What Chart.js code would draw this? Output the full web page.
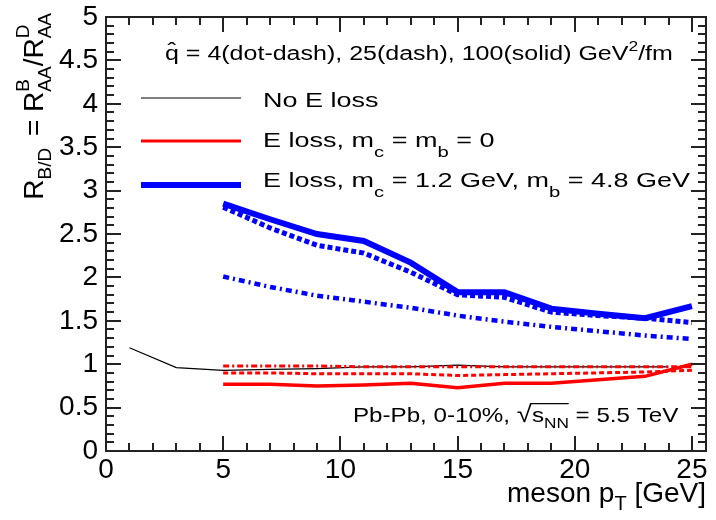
<!DOCTYPE html>
<html>
<head>
<meta charset="utf-8">
<script src="https://cdn.jsdelivr.net/npm/chart.js@4.4.1/dist/chart.umd.min.js"></script>
<style>
  html, body { margin: 0; padding: 0; background: #fff; }
  canvas { display: block; }
</style>
</head>
<body>
<canvas id="c" width="716" height="520"></canvas>
<script>
'use strict';

var FONT = '"Liberation Sans", Arial, Helvetica, sans-serif';

// pT bin centres (GeV)
var binX   = [5, 7, 9, 11, 13, 15, 17, 19, 21, 23, 25];
var blackX = [1, 3, 5, 7, 9, 11, 13, 15, 17, 19, 21, 23, 24];

// R_B/D values
var noLoss      = [1.19, 0.96, 0.93, 0.94, 0.95, 0.97, 0.97, 0.99, 0.97, 0.97, 0.97, 0.97, 0.97];
var redSolid    = [0.77, 0.77, 0.75, 0.76, 0.78, 0.73, 0.78, 0.78, 0.82, 0.86, 1.00];
var redDash     = [0.90, 0.90, 0.89, 0.89, 0.89, 0.87, 0.88, 0.89, 0.90, 0.91, 0.93];
var redDotDash  = [0.98, 0.98, 0.98, 0.97, 0.97, 0.97, 0.97, 0.97, 0.97, 0.97, 0.97];
var blueSolid   = [2.85, 2.67, 2.50, 2.42, 2.17, 1.83, 1.83, 1.64, 1.58, 1.53, 1.67];
var blueDash    = [2.81, 2.57, 2.37, 2.28, 2.06, 1.80, 1.77, 1.60, 1.56, 1.53, 1.48];
var blueDotDash = [2.01, 1.89, 1.79, 1.72, 1.65, 1.56, 1.49, 1.43, 1.38, 1.33, 1.29];

// axis ticks: major every 0.5 / 5, minor every 0.1 / 1
var yMinorTicks = [];
for (var k = 0; k <= 50; k++) yMinorTicks.push(k / 10);
var xMinorTicks = [];
for (var m = 0; m <= 25; m++) xMinorTicks.push(m);

function pts(xs, ys) {
  return xs.map(function(x, i) { return { x: x, y: ys[i] }; });
}

function line(data, color, width, dash) {
  return {
    data: data, borderColor: color, borderWidth: width, borderDash: dash || [],
    pointRadius: 0, tension: 0, fill: false, borderCapStyle: 'butt'
  };
}

// --- small rich-text helper for sub/superscripts ---
function partWidth(ctx, p) {
  if (p.stack) {
    return Math.max.apply(null, p.stack.map(function(q) { return partWidth(ctx, q); }));
  }
  ctx.font = p.s + 'px ' + FONT;
  return ctx.measureText(p.t).width + (p.gap || 0);
}

// sx stretches the text horizontally (the original's glyphs are wide)
function drawRich(ctx, parts, x, y, align, sx) {
  sx = sx || 1;
  var w = parts.reduce(function(s, p) { return s + partWidth(ctx, p); }, 0) * sx;
  var x0 = align === 'right' ? x - w : align === 'center' ? x - w / 2 : x;
  var cx = 0, overY;
  ctx.save();
  ctx.translate(x0, y);
  ctx.scale(sx, 1);
  ctx.textAlign = 'left';
  ctx.textBaseline = 'alphabetic';
  ctx.fillStyle = '#000';
  ctx.strokeStyle = '#000';
  parts.forEach(function(p) {
    var pw = partWidth(ctx, p);
    var items = p.stack || [p];
    items.forEach(function(q) {
      ctx.font = q.s + 'px ' + FONT;
      ctx.fillText(q.t, cx, q.dy || 0);
    });
    if (p.radical) {
      ctx.font = p.s + 'px ' + FONT;
      overY = -ctx.measureText(p.t).actualBoundingBoxAscent + 0.6;
      ctx.lineWidth = 1.2;
      ctx.beginPath();
      ctx.moveTo(cx + pw - 1.5, overY);
      ctx.lineTo(cx + pw + p.radical, overY);
      ctx.stroke();
    }
    cx += pw;
  });
  ctx.restore();
}

var rootPlugin = {
  id: 'rootFrame',
  afterDraw: function(chart) {
    var ctx = chart.ctx;
    var a = chart.chartArea;
    var xs = chart.scales.x, ys = chart.scales.y;
    ctx.save();
    ctx.setLineDash([]);
    ctx.strokeStyle = '#222';
    ctx.fillStyle = '#222';
    ctx.lineWidth = 2;
    ctx.strokeRect(a.left, a.top, a.right - a.left, a.bottom - a.top);

    // inward ticks on all four sides
    yMinorTicks.forEach(function(v, i) {
      var py = Math.round(ys.getPixelForValue(v));
      var len = i % 5 === 0 ? 15 : 8;
      ctx.fillRect(a.left, py - 1, len, 2);
      ctx.fillRect(a.right - len, py - 1, len, 2);
    });
    xMinorTicks.forEach(function(v, i) {
      var px = Math.round(xs.getPixelForValue(v));
      var len = i % 5 === 0 ? 15 : 8;
      ctx.fillRect(px - 1, a.bottom - len, 2, len);
      ctx.fillRect(px - 1, a.top, 2, len);
    });

    // header line
    var hx = 165, hy = 60, hsx = 1.25;
    drawRich(ctx, [
      { t: 'q', s: 20 },
      { t: ' = 4(dot-dash), 25(dash), 100(solid) GeV', s: 20 },
      { t: '2', s: 14, dy: -9 },
      { t: '/fm', s: 20 }
    ], hx, hy, 'left', hsx);
    ctx.font = '20px ' + FONT;
    ctx.fillStyle = '#000';
    var qw = ctx.measureText('q').width * hsx;
    ctx.save();
    ctx.translate(hx + qw / 2, hy - 3);
    ctx.scale(1.3, 1);
    ctx.textAlign = 'center';
    ctx.fillText('\u02C6', 0, 0);
    ctx.restore();

    // legend
    var legend = [
      { color: '#000', w: 1, y: 98, ty: 107, parts: [{ t: 'No E loss', s: 20 }] },
      { color: '#ff0000', w: 3, y: 141, ty: 147, parts: [
        { t: 'E loss, m', s: 20 }, { t: 'c', s: 15, dy: 10 },
        { t: ' = m', s: 20 }, { t: 'b', s: 15, dy: 10 }, { t: ' = 0', s: 20 }] },
      { color: '#0000ff', w: 6, y: 185, ty: 187, parts: [
        { t: 'E loss, m', s: 20 }, { t: 'c', s: 15, dy: 10 },
        { t: ' = 1.2 GeV, m', s: 20 }, { t: 'b', s: 15, dy: 10 }, { t: ' = 4.8 GeV', s: 20 }] }
    ];
    legend.forEach(function(e) {
      ctx.strokeStyle = e.color;
      ctx.lineWidth = e.w;
      ctx.beginPath();
      ctx.moveTo(141, e.y); ctx.lineTo(241, e.y);
      ctx.stroke();
      drawRich(ctx, e.parts, 263, e.ty, 'left', 1.35);
    });

    // collision system
    drawRich(ctx, [
      { t: 'Pb-Pb, 0-10%, ', s: 21 },
      { t: '\u221A', s: 24, radical: 32 },
      { t: 's', s: 21 },
      { t: 'NN', s: 15, dy: 6 },
      { t: ' = 5.5 TeV', s: 21 }
    ], 353, 422, 'left', 1.15);

    // x title
    drawRich(ctx, [
      { t: 'meson p', s: 28 },
      { t: 'T', s: 20, dy: 8 },
      { t: ' [GeV]', s: 28 }
    ], 706, 502, 'right');

    // y title (rotated)
    ctx.save();
    ctx.translate(43, 13);
    ctx.rotate(-Math.PI / 2);
    drawRich(ctx, [
      { t: 'R', s: 28 },
      { t: 'B/D', s: 19, dy: 8, gap: 4 },
      { t: ' = R', s: 28 },
      { stack: [{ t: 'B', s: 19, dy: -14 }, { t: 'AA', s: 19, dy: 8 }], gap: 3 },
      { t: '/R', s: 28 },
      { stack: [{ t: 'D', s: 19, dy: -14 }, { t: 'AA', s: 19, dy: 8 }] }
    ], 0, 0, 'right');
    ctx.restore();

    ctx.restore();
  }
};

var tickFont = { family: FONT, size: 28, lineHeight: 1 };
function fmt(v) { return String(v); }

new Chart(document.getElementById('c').getContext('2d'), {
  type: 'line',
  data: {
    datasets: [
      line(pts(binX, redDotDash), '#ff0000', 3, [6, 3, 2, 3]),
      line(pts(binX, redDash), '#ff0000', 3, [5, 3]),
      line(pts(binX, redSolid), '#ff0000', 3.5),
      line(pts(blackX, noLoss), '#000000', 1.2),
      line(pts(binX, blueDotDash), '#0000ff', 4.5, [6, 4, 2, 4]),
      line(pts(binX, blueDash), '#0000ff', 5, [5, 3]),
      line(pts(binX, blueSolid), '#0000ff', 6)
    ]
  },
  options: {
    responsive: false,
    animation: false,
    devicePixelRatio: 1,
    layout: { padding: { top: 17, right: 10, left: 0, bottom: 0 } },
    plugins: { legend: { display: false }, tooltip: { enabled: false } },
    scales: {
      x: {
        type: 'linear', min: 0, max: 25.6,
        grid: { display: false, drawTicks: false },
        border: { display: false },
        ticks: { stepSize: 5, includeBounds: false, maxRotation: 0, autoSkip: false,
                 font: tickFont, color: '#000', padding: 5, callback: fmt },
        afterFit: function(s) { s.height = 69; }
      },
      y: {
        type: 'linear', min: 0, max: 5,
        grid: { display: false, drawTicks: false },
        border: { display: false },
        ticks: { stepSize: 0.5, autoSkip: false, font: tickFont, color: '#000', padding: 8,
                 callback: fmt },
        // the "5" label may poke above the frame, as in the original
        afterFit: function(s) { s.width = 106; s.paddingTop = 0; s.paddingBottom = 0; }
      }
    }
  },
  plugins: [rootPlugin]
});
</script>
</body>
</html>
